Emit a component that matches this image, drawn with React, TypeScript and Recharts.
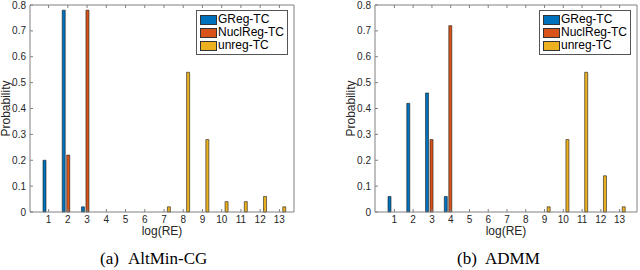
import React from 'react';
import { BarChart, Bar, XAxis, YAxis, Legend } from 'recharts';

const categories = ['1', '2', '3', '4', '5', '6', '7', '8', '9', '10', '11', '12', '13'];
const seriesNames = ['GReg-TC', 'NuclReg-TC', 'unreg-TC'];
const seriesColors = ['#0072BD', '#D95319', '#EDB120'];

// (a) AltMin-CG
const altminGReg = [0.2, 0.78, 0.02, 0, 0, 0, 0, 0, 0, 0, 0, 0, 0];
const altminNuclReg = [0, 0.22, 0.78, 0, 0, 0, 0, 0, 0, 0, 0, 0, 0];
const altminUnreg = [0, 0, 0, 0, 0, 0, 0.02, 0.54, 0.28, 0.04, 0.04, 0.06, 0.02];

// (b) ADMM
const admmGReg = [0.06, 0.42, 0.46, 0.06, 0, 0, 0, 0, 0, 0, 0, 0, 0];
const admmNuclReg = [0, 0, 0.28, 0.72, 0, 0, 0, 0, 0, 0, 0, 0, 0];
const admmUnreg = [0, 0, 0, 0, 0, 0, 0, 0, 0.02, 0.28, 0.54, 0.14, 0.02];

const yTicks = [0, 0.1, 0.2, 0.3, 0.4, 0.5, 0.6, 0.7, 0.8];

const sans = '"Liberation Sans", Arial, Helvetica, sans-serif';
const serif = '"Liberation Serif", "Times New Roman", serif';
const axisColor = '#808080';
const textColor = '#262626';

const buildRows = (a: number[], b: number[], c: number[]) =>
  categories.map((cat, i) => ({ cat, g: a[i], n: b[i], u: c[i] }));

const LegendBox = (props: any) => {
  const { payload } = props;
  return (
    <div style={{ border: '1px solid #555', background: '#fff', padding: '2px 3px', fontFamily: sans, fontSize: 12, color: '#000', lineHeight: '13px' }}>
      {(payload || []).map((entry: any) => (
        <div key={entry.value} style={{ display: 'flex', alignItems: 'center', height: 13 }}>
          <span style={{ display: 'inline-block', width: 17, height: 10, background: entry.color, border: '1px solid #333', marginRight: 1, boxSizing: 'border-box' }} />
          <span>{entry.value}</span>
        </div>
      ))}
    </div>
  );
};

interface PanelProps {
  rows: any[];
  left: number;
  marginLeft: number;
  marginRight: number;
  padding: { left: number; right: number };
  legendLeft: number;
}

const Panel: React.FC<PanelProps> = ({ rows, left, marginLeft, marginRight, padding, legendLeft }) => (
  <div style={{ position: 'absolute', left, top: 0 }}>
    <BarChart
      width={320}
      height={240}
      data={rows}
      margin={{ top: 4, right: marginRight, bottom: 0, left: marginLeft }}
      barSize={3}
      barGap={1.5}
    >
      <XAxis
        dataKey="cat"
        padding={padding}
        height={28}
        stroke={axisColor}
        tickSize={-3}
        tickMargin={7}
        interval={0}
        tick={{ fill: textColor, fontSize: 10, fontFamily: sans }}
        label={{ value: 'log(RE)', position: 'insideBottom', offset: 5, fill: textColor, fontSize: 12, fontFamily: sans }}
      />
      <XAxis
        xAxisId="top"
        dataKey="cat"
        orientation="top"
        padding={padding}
        height={1}
        stroke={axisColor}
        tickSize={-3}
        interval={0}
        tickFormatter={() => ''}
      />
      <YAxis
        domain={[0, 0.8]}
        ticks={yTicks}
        width={30}
        stroke={axisColor}
        tickSize={-3}
        tickMargin={7}
        tickFormatter={(v: number) => (v === 0 ? '0' : v.toFixed(1))}
        tick={{ fill: textColor, fontSize: 10, fontFamily: sans }}
        label={{ value: 'Probability', angle: -90, position: 'insideLeft', offset: 6, fill: textColor, fontSize: 12, fontFamily: sans, style: { textAnchor: 'middle' } }}
      />
      <YAxis
        yAxisId="right"
        orientation="right"
        domain={[0, 0.8]}
        ticks={yTicks}
        width={1}
        stroke={axisColor}
        tickSize={-3}
        tickFormatter={() => ''}
      />
      <Legend
        layout="horizontal"
        verticalAlign="middle"
        align="center"
        content={<LegendBox />}
        wrapperStyle={{ position: 'absolute', left: legendLeft, top: 10, width: 'auto' }}
      />
      <Bar dataKey="g" name={seriesNames[0]} fill={seriesColors[0]} stroke="#1a1a1a" strokeWidth={0.6} isAnimationActive={false} />
      <Bar dataKey="n" name={seriesNames[1]} fill={seriesColors[1]} stroke="#1a1a1a" strokeWidth={0.6} isAnimationActive={false} />
      <Bar dataKey="u" name={seriesNames[2]} fill={seriesColors[2]} stroke="#1a1a1a" strokeWidth={0.6} isAnimationActive={false} />
    </BarChart>
  </div>
);

const Caption: React.FC<{ tag: string; title: string; tagX: number; titleX: number }> = ({ tag, title, tagX, titleX }) => (
  <>
    <div style={{ position: 'absolute', left: tagX, top: 249, fontFamily: serif, fontSize: 17, lineHeight: '20px', color: '#000', whiteSpace: 'nowrap' }}>{tag}</div>
    <div style={{ position: 'absolute', left: titleX, top: 249, fontFamily: serif, fontSize: 17, lineHeight: '20px', color: '#000', whiteSpace: 'nowrap' }}>{title}</div>
  </>
);

export default function App() {
  return (
    <div style={{ position: 'absolute', left: 0, top: 0, width: 640, height: 270, background: '#fff', overflow: 'hidden' }}>
      <Panel
        rows={buildRows(altminGReg, altminNuclReg, altminUnreg)}
        left={0}
        marginLeft={0}
        marginRight={25}
        padding={{ left: 9, right: 5 }}
        legendLeft={196}
      />
      <Panel
        rows={buildRows(admmGReg, admmNuclReg, admmUnreg)}
        left={320}
        marginLeft={25}
        marginRight={2}
        padding={{ left: 10, right: 8 }}
        legendLeft={219}
      />
      <Caption tag="(a)" title="AltMin-CG" tagX={100} titleX={128} />
      <Caption tag="(b)" title="ADMM" tagX={457} titleX={485} />
    </div>
  );
}
